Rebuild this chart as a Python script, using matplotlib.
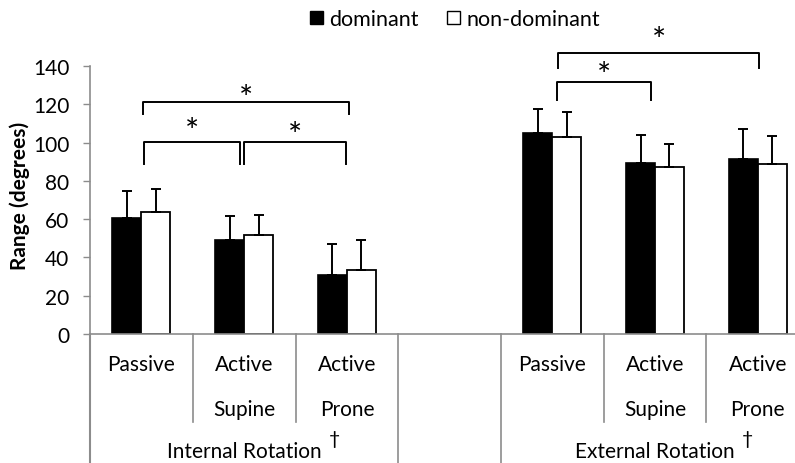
import matplotlib
matplotlib.use("Agg")
import matplotlib.pyplot as plt
from matplotlib.patches import Patch
import matplotlib.transforms as mtransforms
import numpy as np

plt.rcParams['font.family'] = ['Lato', 'DejaVu Sans']

# ---- data ----
groups = ["Internal Rotation", "External Rotation"]
conditions = [["Passive"], ["Active", "Supine"], ["Active", "Prone"]]
series = ["dominant", "non-dominant"]
dom_mean = [60.5, 49, 31, 105, 89.5, 91.5]
dom_sd = [14, 12.5, 16, 12.5, 14.5, 15.5]
nondom_mean = [63.5, 51.5, 33.5, 103, 87.5, 89]
nondom_sd = [12.5, 10.5, 15.5, 13, 12, 14.5]
yticks = [0, 20, 40, 60, 80, 100, 120, 140]

# category slots: 0,1,2 = IR; 3 = empty; 4,5,6 = ER
slots = np.array([0, 1, 2, 4, 5, 6])
w = 0.282

W, H = 795, 464
fig = plt.figure(figsize=(W / 100, H / 100), dpi=100)
ax = fig.add_axes([90 / W, (H - 335) / H, 1 - 90 / W, 268 / H])

gray = "#8c8c8c"
fs = 15
ax.bar(slots - w / 2, dom_mean, w, color="black", edgecolor="black", linewidth=1.2, zorder=2)
ax.bar(slots + w / 2, nondom_mean, w, color="white", edgecolor="black", linewidth=1.3, zorder=2)
ax.errorbar(slots - w / 2, dom_mean, yerr=[np.zeros(6), dom_sd], fmt="none",
            ecolor="black", elinewidth=1.4, capsize=3.8, capthick=1.4, zorder=3)
ax.errorbar(slots + w / 2, nondom_mean, yerr=[np.zeros(6), nondom_sd], fmt="none",
            ecolor="black", elinewidth=1.4, capsize=3.8, capthick=1.4, zorder=3)

ax.set_xlim(-0.501, 6.363)
ax.set_ylim(0, 140)
ax.set_yticks(yticks)
ax.tick_params(axis="y", direction="out", length=5, width=1, color=gray,
               labelsize=fs, pad=10)
ax.set_xticks([])
for s in ["top", "right"]:
    ax.spines[s].set_visible(False)
for s in ["left", "bottom"]:
    ax.spines[s].set_color(gray)
    ax.spines[s].set_linewidth(1.2)
ax.set_ylabel("Range (degrees)", fontsize=fs, fontweight="bold")
ax.yaxis.set_label_coords(-0.085, 0.52)

# multi-level category axis
tr = mtransforms.blended_transform_factory(ax.transData, ax.transAxes)
long_lines = [2.5, 3.5]
short_lines = [0.5, 1.5, 4.5, 5.5]
for xv in long_lines:
    ax.plot([xv, xv], [0, -0.5], transform=tr, color=gray, lw=1.2, clip_on=False)
for xv in short_lines:
    ax.plot([xv, xv], [0, -0.328], transform=tr, color=gray, lw=1.2, clip_on=False)
ax.plot([-0.501, -0.501], [0, -0.5], transform=tr, color=gray, lw=1.5, clip_on=False)

for gi, base in enumerate([0, 4]):
    for ci, lines in enumerate(conditions):
        for li, txt in enumerate(lines):
            ax.text(base + ci, -0.112 - li * 0.168, txt, transform=tr, ha="center",
                    va="center", fontsize=fs)
    t = ax.text(base + 1, -0.437, groups[gi], transform=tr, ha="center", va="center",
                fontsize=fs)
    ax.annotate("†", xy=(1, 0.7), xycoords=t, xytext=(5, 0), textcoords="offset points",
                ha="left", va="bottom", fontsize=14)

# significance brackets: (x0, x1, y_top, y_end, star_y)
brackets = [
    (0.015, 2.02, 121.2, 115.0, 128.0),
    (0.024, 0.96, 100.3, 88.8, 110.5),
    (0.998, 1.99, 100.3, 88.8, 108.7),
    (4.06, 6.01, 146.8, 139.0, 158.0),
    (4.05, 4.96, 131.7, 122.3, 139.8),
]
for x0, x1, yt, ye, ys in brackets:
    ax.plot([x0, x0, x1, x1], [ye, yt, yt, ye], color="black", lw=1.4,
            solid_joinstyle="round", clip_on=False, zorder=4)
    ax.annotate("*", xy=((x0 + x1) / 2, ys), xytext=(0, -7), textcoords="offset points",
                ha="center", va="center", fontsize=24, annotation_clip=False)

handles = [Patch(facecolor="black", edgecolor="black"),
           Patch(facecolor="white", edgecolor="black")]
fig.legend(handles, series, loc="center", bbox_to_anchor=(455 / W, 1 - 20 / H),
           ncol=2, frameon=False, fontsize=15.5, handlelength=0.6, handleheight=0.6,
           handletextpad=0.3, columnspacing=1.3)

fig.savefig("out.png", dpi=100)
